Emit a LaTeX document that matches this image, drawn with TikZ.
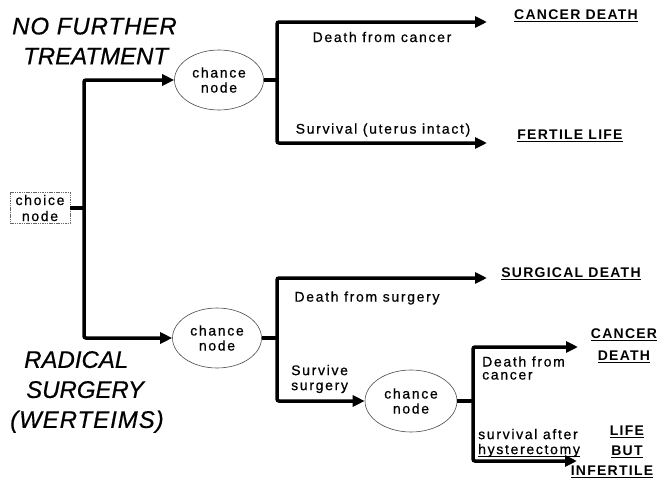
\documentclass[tikz,border=0pt]{standalone}
\usepackage{fontspec}
\setmainfont{Liberation Sans}
\newfontfamily\lblfont[LetterSpace=12,FakeBold=0.6]{Liberation Sans}
\newfontfamily\outfont[LetterSpace=9]{Liberation Sans}
\newfontfamily\ttlfont[FakeBold=0.5]{Liberation Sans}
\newfontfamily\ttlwfont[FakeBold=0.5,LetterSpace=4]{Liberation Sans}
\usetikzlibrary{arrows.meta,shapes.geometric}
\newcommand\undl[2][1.1pt]{\setbox0\hbox{#2}\rlap{\rule[-2.6pt]{\wd0}{#1}}\box0}

\begin{document}
\begin{tikzpicture}[x=1pt,y=-1pt,
 lbl/.style={font=\lblfont\fontsize{14}{15}\selectfont,inner sep=0pt,align=left},
 outc/.style={font=\outfont\bfseries\fontsize{14}{22}\selectfont,inner sep=0pt,align=center},
 ttl/.style={font=\ttlfont\itshape\fontsize{24}{30}\selectfont,inner sep=0pt,align=left,anchor=west},
 chance/.style={ellipse,draw=black!70,line width=0.6pt,minimum width=89pt,minimum height=60pt,
 inner sep=0pt,align=center,font=\lblfont\fontsize{14}{15}\selectfont},
 choicebox/.style={draw=black!60,line width=0.5pt,dash pattern=on 1.5pt off 0.8pt,
 minimum width=60pt,minimum height=31pt,inner sep=0pt,align=center,font=\lblfont\fontsize{14}{16}\selectfont},
 branch/.style={line width=3.5pt,rounded corners=2pt},
 arr/.style={branch,-{Triangle[length=12pt,width=11pt]}}]
\path[use as bounding box,fill=white] (0,0) rectangle (659,479);
% decisions
\node[ttl] (ttlA) at (12,41) {{\ttlwfont NO FURTHER}\\\hspace*{11pt}TREATMENT};
\node[ttl] (ttlB) at (10,392) {\hspace*{14pt}RADICAL\\\hspace*{16pt}SURGERY\\{\ttlwfont(WERTEIMS)}};
\node[choicebox] (choice) at (40,208) {choice\\node};
\node[chance] (c1) at (219,80) {chance\\node};
\node[chance] (c2) at (217,338) {chance\\node};
\node[chance,minimum width=92pt,minimum height=62pt] (c3) at (411,401) {chance\\node};
\coordinate (trunk) at (84,208);
\coordinate (j1) at (277,80);\coordinate (j2) at (277,338);\coordinate (j3) at (473,401);
\coordinate (t1) at (487,22);\coordinate (t2) at (487,143);\coordinate (t3) at (487,278);
\coordinate (t5) at (578,347);\coordinate (t6) at (577,461);
% outcomes
\node[outc] (o1) at (576,16) {\undl{CANCER DEATH}};
\node[outc] (o2) at (570,136) {\undl{FERTILE LIFE}};
\node[outc] (o3) at (571,274) {\undl{SURGICAL DEATH}};
\node[outc] (o4) at (624,346) {\undl{CANCER}\\\undl{DEATH}};
\node[outc,font=\outfont\bfseries\fontsize{14}{20}\selectfont] (o5) at (612,452)
 {\hspace*{30pt}\undl{LIFE}\\\hspace*{30pt}\undl{BUT}\\\undl{INFERTILE}};
% branch labels
\node[lbl] (l1) at (382,37) {Death from cancer};
\node[lbl] (l2) at (383,130) {Survival (uterus intact)};
\node[lbl] (l3) at (367,298) {Death from surgery};
\node[lbl,anchor=west] (l4) at (291,379) {Survive\\surgery};
\node[lbl,anchor=west,font=\lblfont\fontsize{14}{13}\selectfont] (l5) at (482,368) {Death from\\cancer};
\node[lbl,anchor=west] (l6) at (478,443) {survival after\\\undl[0.7pt]{hysterectomy}};
% connectors
\draw[branch] (choice) -- (trunk);
\draw[arr] (trunk) |- (c1.west);\draw[arr] (trunk) |- (c2.west);
\draw[branch] (c1) -- (j1);\draw[arr] (j1) |- (t1);\draw[arr] (j1) |- (t2);
\draw[branch] (c2) -- (j2);\draw[arr] (j2) |- (t3);\draw[arr] (j2) |- (c3.west);
\draw[branch] (c3) -- (j3);\draw[arr] (j3) |- (t5);\draw[arr] (j3) |- (t6);
\end{tikzpicture}
\end{document}
